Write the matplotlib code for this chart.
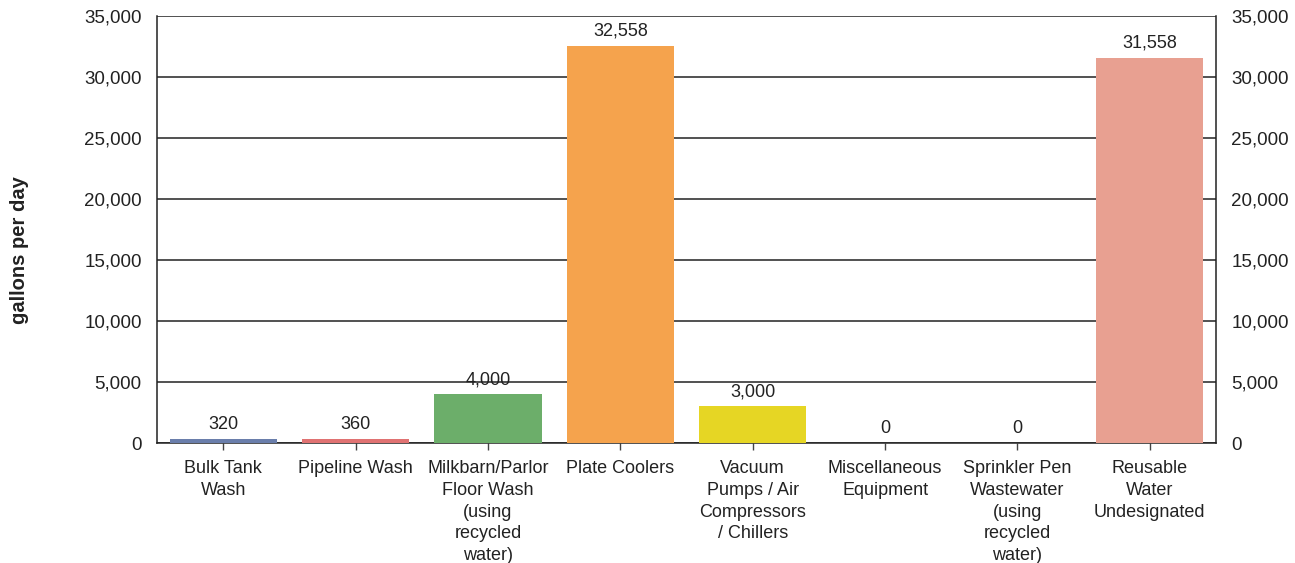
import matplotlib
matplotlib.use("Agg")
import matplotlib.pyplot as plt

plt.rcParams['font.family'] = ['Liberation Sans', 'DejaVu Sans']

categories = [
    "Bulk Tank\nWash",
    "Pipeline Wash",
    "Milkbarn/Parlor\nFloor Wash\n(using\nrecycled\nwater)",
    "Plate Coolers",
    "Vacuum\nPumps / Air\nCompressors\n/ Chillers",
    "Miscellaneous\nEquipment",
    "Sprinkler Pen\nWastewater\n(using\nrecycled\nwater)",
    "Reusable\nWater\nUndesignated",
]
values = [320, 360, 4000, 32558, 3000, 0, 0, 31558]
colors = ["#6a7eab", "#e07272", "#6cae6a", "#f5a34d", "#e6d624", "#ffffff", "#ffffff", "#e8a091"]
yticks = [0, 5000, 10000, 15000, 20000, 25000, 30000, 35000]

fig = plt.figure(figsize=(12.95, 5.63), dpi=100)
ax = fig.add_axes([157 / 1295, 1 - 443 / 563, (1216 - 157) / 1295, (443 - 16) / 563])

x = list(range(len(categories)))
ax.bar(x, values, width=0.81, color=colors, zorder=3)
ax.set_xlim(-0.5, len(categories) - 0.5)
ax.set_ylim(0, 35000)
ax.set_yticks(yticks)
ax.set_yticklabels([f"{v:,}" for v in yticks], fontsize=13.5, color="#222222")
ax.yaxis.grid(True, color="#222222", linewidth=1.1, zorder=1)
ax.tick_params(axis='y', length=0, pad=11, labelright=True, right=False)
ax.set_xticks(x)
ax.set_xticklabels(categories, fontsize=13, color="#222222", linespacing=1.38)
ax.tick_params(axis='x', length=5, width=1, color="#444444", pad=7)

for side in ["left", "right", "bottom"]:
    ax.spines[side].set_color("#222222")
    ax.spines[side].set_linewidth(1.1)
ax.spines["top"].set_visible(False)

for xi, v in zip(x, values):
    ax.text(xi, v + 500, f"{v:,}", ha="center", va="bottom", fontsize=13, color="#222222", zorder=4)

fig.text(20 / 1295, 1 - 250 / 563, "gallons per day", rotation=90, ha="center", va="center",
         fontsize=14.5, fontweight="bold", color="#222222")

fig.savefig("out.png", dpi=100, facecolor="white")
